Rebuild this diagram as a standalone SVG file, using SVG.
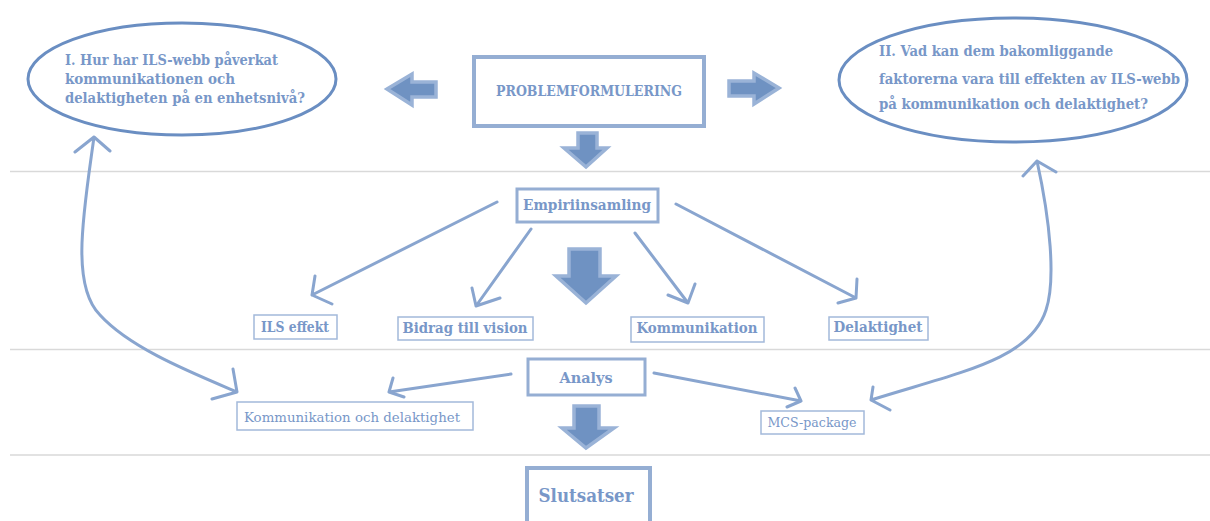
<svg xmlns="http://www.w3.org/2000/svg" width="1210" height="521" viewBox="0 0 1210 521">
<style>
.bg{fill:#ffffff}
.sep{stroke:#d9d9d9;stroke-width:1.5;fill:none}
.ell{fill:#ffffff;stroke:#6a8ec2;stroke-width:3}
.thick{fill:#ffffff;stroke:#95aed3;stroke-width:4}
.mid{fill:#ffffff;stroke:#95aed3;stroke-width:3}
.thin{fill:#ffffff;stroke:#a3b9da;stroke-width:1.5}
.t{font-family:"DejaVu Serif","Liberation Serif",serif;font-weight:bold;fill:#7897c8}
.r{font-family:"DejaVu Serif","Liberation Serif",serif;font-weight:normal;fill:#7897c8}
.fat{fill:#6f92c2;stroke:#9ab3d7;stroke-width:3.5;stroke-linejoin:miter}
.con{fill:none;stroke:#89a5cf;stroke-width:3;stroke-linecap:round;stroke-linejoin:round}
</style>
<rect class="bg" x="0" y="0" width="1210" height="521"/>
<g id="separators">
<line class="sep" x1="10" y1="171.5" x2="1210" y2="171.5"/>
<line class="sep" x1="10" y1="349.5" x2="1210" y2="349.5"/>
<line class="sep" x1="10" y1="455" x2="1210" y2="455"/>
</g>
<g id="q1">
<ellipse class="ell" cx="182" cy="79" rx="154" ry="56"/>
<text class="t" font-size="14"><tspan x="65" y="65" textLength="213" lengthAdjust="spacingAndGlyphs">I. Hur har ILS-webb påverkat</tspan><tspan x="65" y="84" textLength="170" lengthAdjust="spacingAndGlyphs">kommunikationen och</tspan><tspan x="65" y="103" textLength="240" lengthAdjust="spacingAndGlyphs">delaktigheten på en enhetsnivå?</tspan></text>
</g>
<g id="q2">
<ellipse class="ell" cx="1013" cy="80" rx="174" ry="62"/>
<text class="t" font-size="14"><tspan x="879" y="56" textLength="234" lengthAdjust="spacingAndGlyphs">II. Vad kan dem bakomliggande</tspan><tspan x="879" y="84" textLength="301" lengthAdjust="spacingAndGlyphs">faktorerna vara till effekten av ILS-webb</tspan><tspan x="879" y="109" textLength="269" lengthAdjust="spacingAndGlyphs">på kommunikation och delaktighet?</tspan></text>
</g>
<g id="problemformulering">
<rect class="thick" x="474" y="57" width="230" height="69"/>
<text class="t" font-size="15" x="589" y="96" text-anchor="middle" textLength="186" lengthAdjust="spacingAndGlyphs">PROBLEMFORMULERING</text>
</g>
<g id="empiriinsamling">
<rect class="mid" x="517" y="189" width="141" height="33"/>
<text class="t" font-size="14" x="587" y="210" text-anchor="middle" textLength="128" lengthAdjust="spacingAndGlyphs">Empiriinsamling</text>
</g>
<g id="ils-effekt">
<rect class="thin" x="254" y="315" width="83" height="24"/>
<text class="t" font-size="14" x="295" y="332" text-anchor="middle" textLength="68" lengthAdjust="spacingAndGlyphs">ILS effekt</text>
</g>
<g id="bidrag">
<rect class="thin" x="398" y="317" width="135" height="23"/>
<text class="t" font-size="14" x="465" y="333" text-anchor="middle" textLength="125" lengthAdjust="spacingAndGlyphs">Bidrag till vision</text>
</g>
<g id="kommunikation">
<rect class="thin" x="631" y="317" width="133" height="25"/>
<text class="t" font-size="14" x="697" y="333" text-anchor="middle" textLength="121" lengthAdjust="spacingAndGlyphs">Kommunikation</text>
</g>
<g id="delaktighet">
<rect class="thin" x="829" y="317" width="99" height="23"/>
<text class="t" font-size="14" x="878" y="332" text-anchor="middle" textLength="89" lengthAdjust="spacingAndGlyphs">Delaktighet</text>
</g>
<g id="analys">
<rect class="mid" x="528" y="359" width="117" height="36"/>
<text class="t" font-size="14" x="586" y="383" text-anchor="middle" textLength="53" lengthAdjust="spacingAndGlyphs">Analys</text>
</g>
<g id="kom-del">
<rect class="thin" x="237" y="402" width="236" height="28"/>
<text class="r" font-size="13.5" x="352" y="422" text-anchor="middle" textLength="216" lengthAdjust="spacingAndGlyphs">Kommunikation och delaktighet</text>
</g>
<g id="mcs">
<rect class="thin" x="761" y="411" width="103" height="23"/>
<text class="r" font-size="13.5" x="812" y="427" text-anchor="middle" textLength="89" lengthAdjust="spacingAndGlyphs">MCS-package</text>
</g>
<g id="slutsatser">
<rect class="thick" x="527" y="468" width="123" height="60"/>
<text class="t" font-size="19" x="586" y="502" text-anchor="middle" textLength="95" lengthAdjust="spacingAndGlyphs">Slutsatser</text>
</g>
<g id="connectors">
<polygon class="fat" points="387,89 412,74 412,82 436,82 436,97 412,97 412,105"/>
<polygon class="fat" points="779,88 754,73 754,81 729,81 729,96 754,96 754,104"/>
<polygon class="fat" points="578,133 597,133 597,148 607,148 586,167 564,148 578,148"/>
<polygon class="fat" points="569,249 600,249 600,276 616,276 586,303 556,276 569,276"/>
<polygon class="fat" points="574,406 599,406 599,428 614,428 586,448 562,428 574,428"/>
<path class="con" d="M497,202 L312,295 M315,276 L312,295 L332,304"/>
<path class="con" d="M531,229 L476,306 M472,288 L476,306 L500,298"/>
<path class="con" d="M635,233 L688,303 M695,284 L688,303 L668,295"/>
<path class="con" d="M676,204 L856,298 M857,279 L856,298 L838,303"/>
<path class="con" d="M511,374 L389,392 M393,378 L389,392 L404,397"/>
<path class="con" d="M654,373 L801,401 M795,388 L801,401 L787,407"/>
<path class="con" d="M94,137 C84,210 70,285 100,315 C130,348 190,372 237,392 M75,152 L94,137 L110,151 M233,369 L237,392 L212,399"/>
<path class="con" d="M1037,161 C1050,220 1056,280 1046,310 C1030,360 960,372 871,400 M1023,176 L1037,161 L1056,172 M873,387 L871,400 L890,410"/>
</g>
</svg>
